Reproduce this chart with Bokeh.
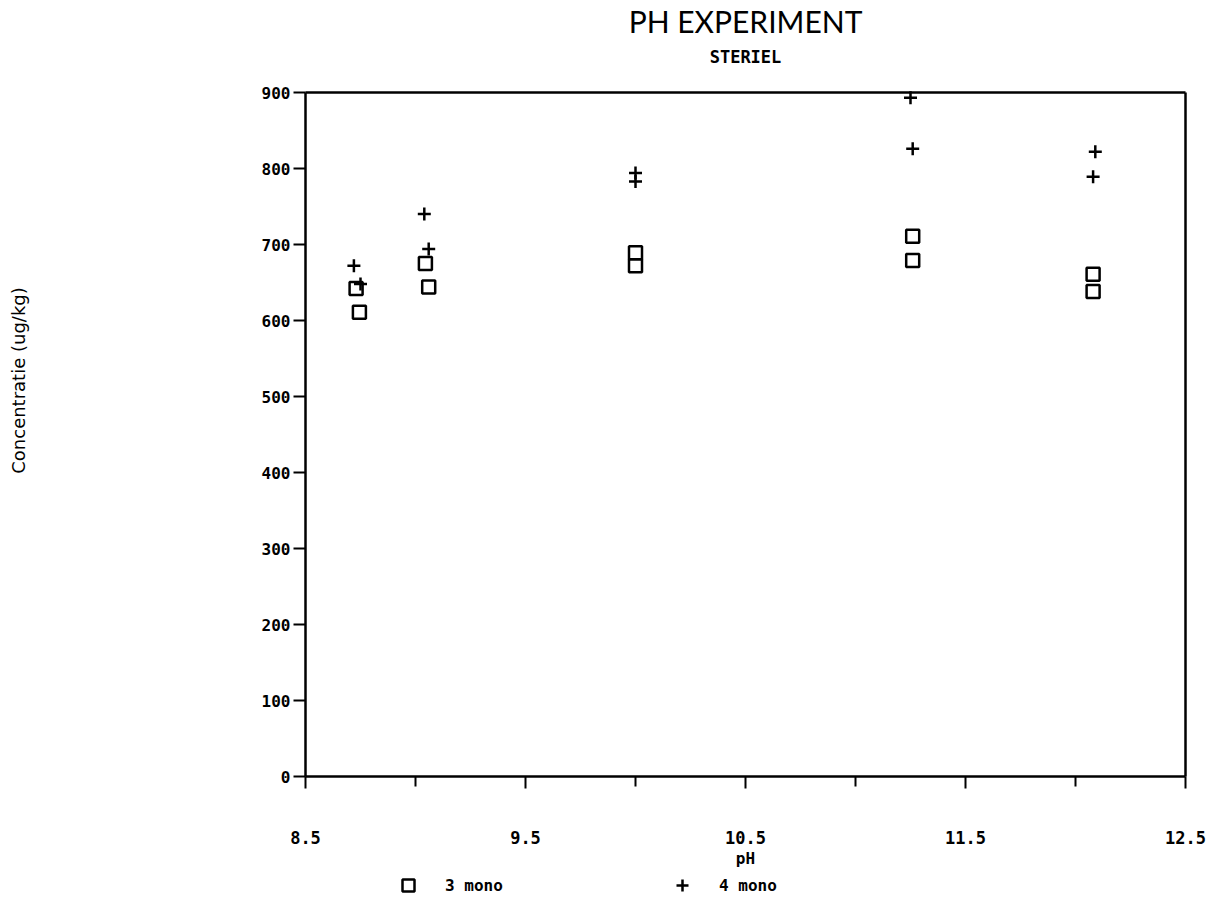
import math
from bokeh.plotting import figure
from bokeh.models import (Range1d, FixedTicker, Legend, LegendItem, LinearAxis,
                          Label)
from bokeh.embed import file_html
from bokeh.resources import INLINE

# ---- data ----
ph_3mono = [8.73, 8.745, 9.045, 9.06, 10.0, 10.0, 11.26, 11.26, 12.08, 12.08]
conc_3mono = [642, 611, 675, 644, 689, 672, 711, 679, 661, 638]
ph_4mono = [8.72, 8.75, 9.04, 9.06, 10.0, 10.0, 11.25, 11.26, 12.09, 12.08]
conc_4mono = [672, 648, 740, 694, 794, 783, 893, 826, 822, 789]
x_major_ticks = [8.5, 9.5, 10.5, 11.5, 12.5]
x_minor_ticks = [9.0, 10.0, 11.0, 12.0]
y_ticks = [0, 100, 200, 300, 400, 500, 600, 700, 800, 900]
X_MIN, X_MAX = 8.5, 12.5
Y_MIN, Y_MAX = 0, 900

# ---- page layout (pixels) ----
W, H = 1213, 907
BOX_L, BOX_R, BOX_T, BOX_B = 305, 1185, 92, 776


def px_x(px):
    return X_MIN + (px - BOX_L) * (X_MAX - X_MIN) / (BOX_R - BOX_L)


def px_y(py):
    return Y_MIN + (BOX_B - py) * (Y_MAX - Y_MIN) / (BOX_B - BOX_T)


MONO = "DejaVu Sans Mono"

p = figure(width=W, height=H, output_backend="svg", toolbar_location=None,
           x_range=Range1d(px_x(0), px_x(W)), y_range=Range1d(px_y(H), px_y(0)),
           min_border=0, background_fill_color="white",
           border_fill_color="white")
p.xgrid.visible = False
p.ygrid.visible = False
p.outline_line_color = None

# bottom axis drawn at y = 0, left axis drawn at x = 8.5
p.xaxis.fixed_location = Y_MIN
p.xaxis.bounds = (X_MIN, X_MAX)
p.yaxis.fixed_location = X_MIN
p.yaxis.bounds = (Y_MIN, Y_MAX)
p.xaxis.ticker = FixedTicker(ticks=x_major_ticks, minor_ticks=x_minor_ticks)
p.yaxis.ticker = FixedTicker(ticks=y_ticks)
for ax in (p.xaxis, p.yaxis):
    ax.axis_line_color = "black"
    ax.axis_line_width = 2.5
    ax.major_tick_line_color = "black"
    ax.major_tick_line_width = 2
    ax.major_tick_in = 0
    ax.major_tick_out = 12
    ax.minor_tick_line_color = "black"
    ax.minor_tick_line_width = 2
    ax.minor_tick_in = 0
    ax.minor_tick_out = 10
    ax.major_label_text_font = MONO
    ax.major_label_text_font_style = "bold"
    ax.major_label_text_color = "black"
p.xaxis.major_label_text_font_size = "17px"
p.xaxis.major_label_standoff = 42
p.yaxis.major_label_text_font_size = "16px"
p.yaxis.major_label_standoff = 3

# top and right sides of the box: plain axis lines without ticks
top_axis = LinearAxis(fixed_location=Y_MAX, bounds=(X_MIN, X_MAX),
                      ticker=FixedTicker(ticks=[]), axis_line_width=2.5,
                      axis_line_color="black", major_tick_out=0,
                      minor_tick_out=0, major_tick_in=0, minor_tick_in=0)
p.add_layout(top_axis, "above")
right_axis = LinearAxis(fixed_location=X_MAX, bounds=(Y_MIN, Y_MAX),
                        ticker=FixedTicker(ticks=[]), axis_line_width=2.5,
                        axis_line_color="black", major_tick_out=0,
                        minor_tick_out=0, major_tick_in=0, minor_tick_in=0)
p.add_layout(right_axis, "right")

r3 = p.scatter(ph_3mono, conc_3mono, marker="square", size=13, fill_color=None,
               line_color="black", line_width=2.5)
r4 = p.scatter(ph_4mono, conc_4mono, marker="cross", size=13,
               line_color="black", line_width=2.5)

# texts
p.add_layout(Label(x=px_x(745), y=px_y(20), text="PH EXPERIMENT",
                   text_font="Lato", text_font_size="30px",
                   text_align="center", text_baseline="alphabetic",
                   text_color="black"))
p.add_layout(Label(x=px_x(745), y=px_y(56), text="STERIEL", text_font=MONO,
                   text_font_style="bold", text_font_size="17px",
                   text_align="center", text_baseline="alphabetic",
                   text_color="black"))
p.add_layout(Label(x=px_x(745), y=px_y(858), text="pH", text_font=MONO,
                   text_font_style="bold", text_font_size="16px",
                   text_align="center", text_baseline="alphabetic",
                   text_color="black"))
p.add_layout(Label(x=px_x(18), y=px_y(380), text="Concentratie (ug/kg)",
                   text_font="DejaVu Sans", text_font_size="18px",
                   angle=math.pi / 2, text_align="center",
                   text_baseline="alphabetic", text_color="black"))

legend = Legend(items=[LegendItem(label="3 mono", renderers=[r3]),
                       LegendItem(label="4 mono", renderers=[r4])],
                orientation="horizontal", location=(393, 7),
                glyph_width=30, glyph_height=30, label_standoff=22,
                label_width=202, spacing=20, padding=0, margin=0,
                border_line_color=None, background_fill_alpha=0,
                label_text_font=MONO, label_text_font_style="bold",
                label_text_font_size="16px", label_height=30,
                label_text_color="black")
p.add_layout(legend)

open("out.html", "w").write(file_html(p, INLINE))
